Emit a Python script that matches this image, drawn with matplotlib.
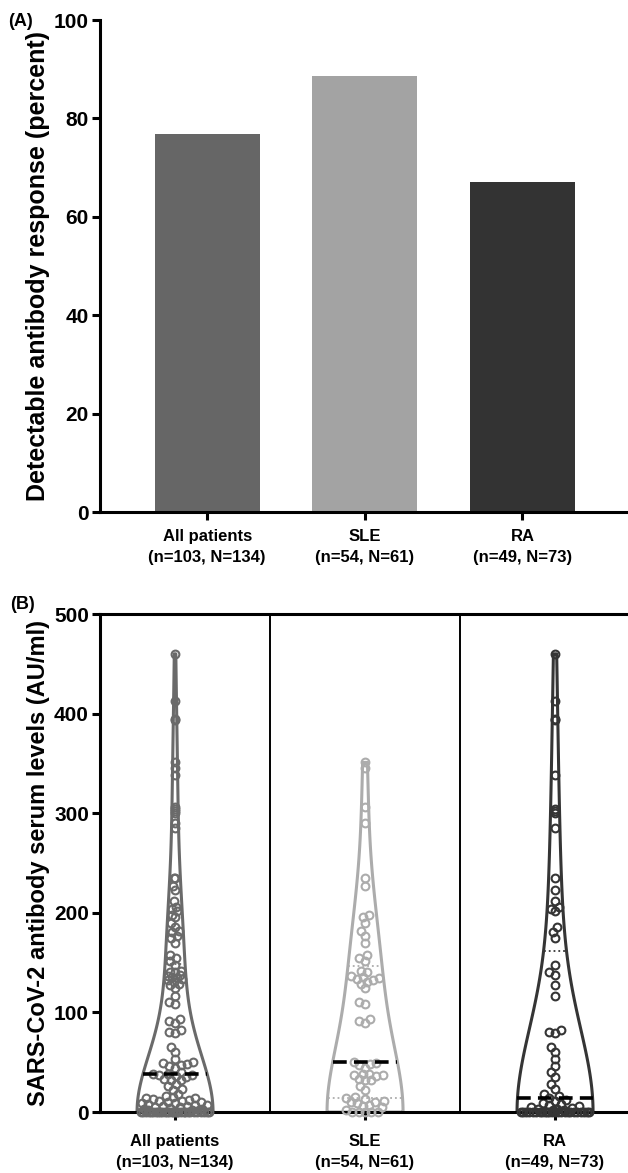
import matplotlib
matplotlib.use('Agg')
import matplotlib.pyplot as plt
from matplotlib import cbook, mlab
import numpy as np

plt.rcParams['font.family'] = ['Liberation Sans', 'DejaVu Sans']
plt.rcParams['font.weight'] = 'bold'

# --- data -------------------------------------------------------------
groups = ['All patients', 'SLE', 'RA']
n_detect = [103, 54, 49]
n_total = [134, 61, 73]
bar_colors = ['#666666', '#a3a3a3', '#333333']
line_colors = ['#6a6a6a', '#acacac', '#353535']

# antibody levels (AU/ml)
sle_levels = [351, 345, 306, 290, 235, 227, 198, 196, 190, 182, 177, 170,
              158, 155, 152,
              142, 141, 137, 136, 135, 134, 133, 131, 129, 124, 110, 108,
              93, 91, 89,
              50, 49, 48, 47, 44, 38, 38, 37, 37, 36, 33, 32, 32, 26, 22,
              15, 14, 13, 11, 10, 10, 9, 7, 6, 5, 2, 0, 0, 0, 0, 0]
ra_levels = [460, 413, 395, 394, 338, 304, 302, 300, 285,
             235, 223, 212, 206, 204, 202, 186, 181, 175,
             148, 141, 138, 128, 116, 82, 80, 79, 65, 60, 53, 46, 40, 35,
             28, 23, 18, 16, 14,
             12, 11, 9, 8, 7, 6, 5, 4, 3, 3, 2, 2,
             0, 0, 0, 0, 0, 0, 0, 0, 0, 0, 0, 0,
             0, 0, 0, 0, 0, 0, 0, 0, 0, 0, 0, 0]
all_levels = sle_levels + ra_levels
levels = [all_levels, sle_levels, ra_levels]
kde_bw = [0.5, 0.68, 0.66]   # smoothing per violin

labels = [f'{g}\n(n={a}, N={b})' for g, a, b in zip(groups, n_detect, n_total)]
percent = [100.0 * a / b for a, b in zip(n_detect, n_total)]

fig = plt.figure(figsize=(6.28, 11.73), dpi=100)

# --- panel A ----------------------------------------------------------
axA = fig.add_axes([100 / 628, 1 - 512 / 1173, 528 / 628, 492 / 1173])
x = np.arange(len(groups))
axA.bar(x, percent, width=0.667, color=bar_colors)
axA.set_xlim(-0.68, 2.67)
axA.set_ylim(0, 100)
axA.set_yticks([0, 20, 40, 60, 80, 100])
axA.set_xticks(x)
axA.set_xticklabels(labels, fontsize=12, linespacing=1.5)
axA.set_ylabel('Detectable antibody response (percent)', fontsize=18,
               fontweight='bold', labelpad=3)
for s in ['top', 'right']:
    axA.spines[s].set_visible(False)
for s in ['left', 'bottom']:
    axA.spines[s].set_linewidth(2.2)
axA.tick_params(axis='both', width=2.2, length=6, direction='out', pad=2)
axA.tick_params(axis='x', pad=6)
axA.tick_params(axis='y', labelsize=15)
fig.text(8 / 628, 1 - 22 / 1173, '(A)', fontsize=13, fontweight='bold',
         va='center', ha='left')

# --- panel B ----------------------------------------------------------
axB = fig.add_axes([100 / 628, 1 - 1112 / 1173, 528 / 628, 498 / 1173])
axB.set_xlim(-0.395, 2.384)
axB.set_ylim(0, 500)
vwidth = 0.40

stats = []
for vals, bw in zip(levels, kde_bw):
    def kde(X, coords, bw=bw):
        # gaussian kde reflected at the lower bound (0 AU/ml)
        k = mlab.GaussianKDE(X, bw)
        return k.evaluate(coords) + k.evaluate(-np.asarray(coords))
    stats += cbook.violin_stats([vals], kde, points=300)

parts = axB.violin(stats, positions=x, widths=vwidth, showextrema=False)
for body, c in zip(parts['bodies'], line_colors):
    body.set_facecolor('none')
    body.set_edgecolor(c)
    body.set_alpha(1)
    body.set_linewidth(2.2)
    body.set_zorder(2)


def half_width(st, v):
    vals = np.asarray(st['vals'])
    vals = 0.5 * vwidth * vals / vals.max()
    return np.interp(v, st['coords'], vals)


# pixel scales for swarm layout
px_x = 528 / (2.384 + 0.395)     # px per x unit
px_y = 498 / 500                 # px per AU/ml
diam = 6.4                       # points may overlap a little

for i, (vals, st, c) in enumerate(zip(levels, stats, line_colors)):
    vals = np.asarray(vals, dtype=float)
    order = np.argsort(vals, kind='stable')
    placed_x, placed_y = [], []
    xs = np.zeros(len(vals))
    for j in order:
        yv = vals[j] * px_y
        lim = max(half_width(st, vals[j]) * px_x - 4.0, 0)
        cands = [0.0]
        near = []
        for px_, py_ in zip(placed_x, placed_y):
            dy = abs(py_ - yv)
            if dy < diam:
                dx = np.sqrt(diam ** 2 - dy ** 2)
                near.append((px_, dx))
                cands += [px_ - dx, px_ + dx]
        cands = sorted(cands, key=abs)
        chosen = None
        for cx in cands:
            if abs(cx) > lim + 1e-6:
                continue
            if all(abs(cx - p) >= d - 1e-6 for p, d in near):
                chosen = cx
                break
        if chosen is None:
            grid = np.linspace(-lim, lim, 41)
            best = -1
            for gx in grid:
                md = min([np.hypot(gx - p, yv - q) for p, q in
                          zip(placed_x, placed_y)] or [99])
                if md > best:
                    best, chosen = md, gx
        placed_x.append(chosen)
        placed_y.append(yv)
        xs[j] = chosen
    axB.plot(i + xs / px_x, vals, 'o', ms=5.6, mfc='none', mec=c, mew=1.5,
             zorder=3, clip_on=False)

    q1, med, q3 = np.percentile(vals, [25, 50, 75], method='weibull')
    for q in (q1, q3):
        hw = half_width(st, q)
        axB.plot([i - hw, i + hw], [q, q], ':', color=c, lw=1.3, zorder=4)
    hw = half_width(st, med)
    axB.plot([i - hw, i + hw], [med, med], '--', color='black', lw=2.6,
             dashes=(3.8, 2), zorder=5)

for sep in (0.5, 1.5):
    axB.axvline(sep, color='black', lw=1.4, zorder=1)
axB.spines['right'].set_visible(False)
for s in ['left', 'bottom', 'top']:
    axB.spines[s].set_linewidth(2.2)
axB.set_yticks([0, 100, 200, 300, 400, 500])
axB.set_xticks(x)
axB.set_xticklabels(labels, fontsize=12, linespacing=1.5)
axB.tick_params(axis='both', width=2.2, length=6, direction='out', pad=2)
axB.tick_params(axis='x', top=False, pad=10)
axB.tick_params(axis='y', labelsize=15)
axB.set_ylabel('SARS-CoV-2 antibody serum levels (AU/ml)', fontsize=17,
               fontweight='bold', labelpad=3)
fig.text(10 / 628, 1 - 604 / 1173, '(B)', fontsize=13, fontweight='bold',
         va='center', ha='left')

fig.savefig('out.png', dpi=100)
